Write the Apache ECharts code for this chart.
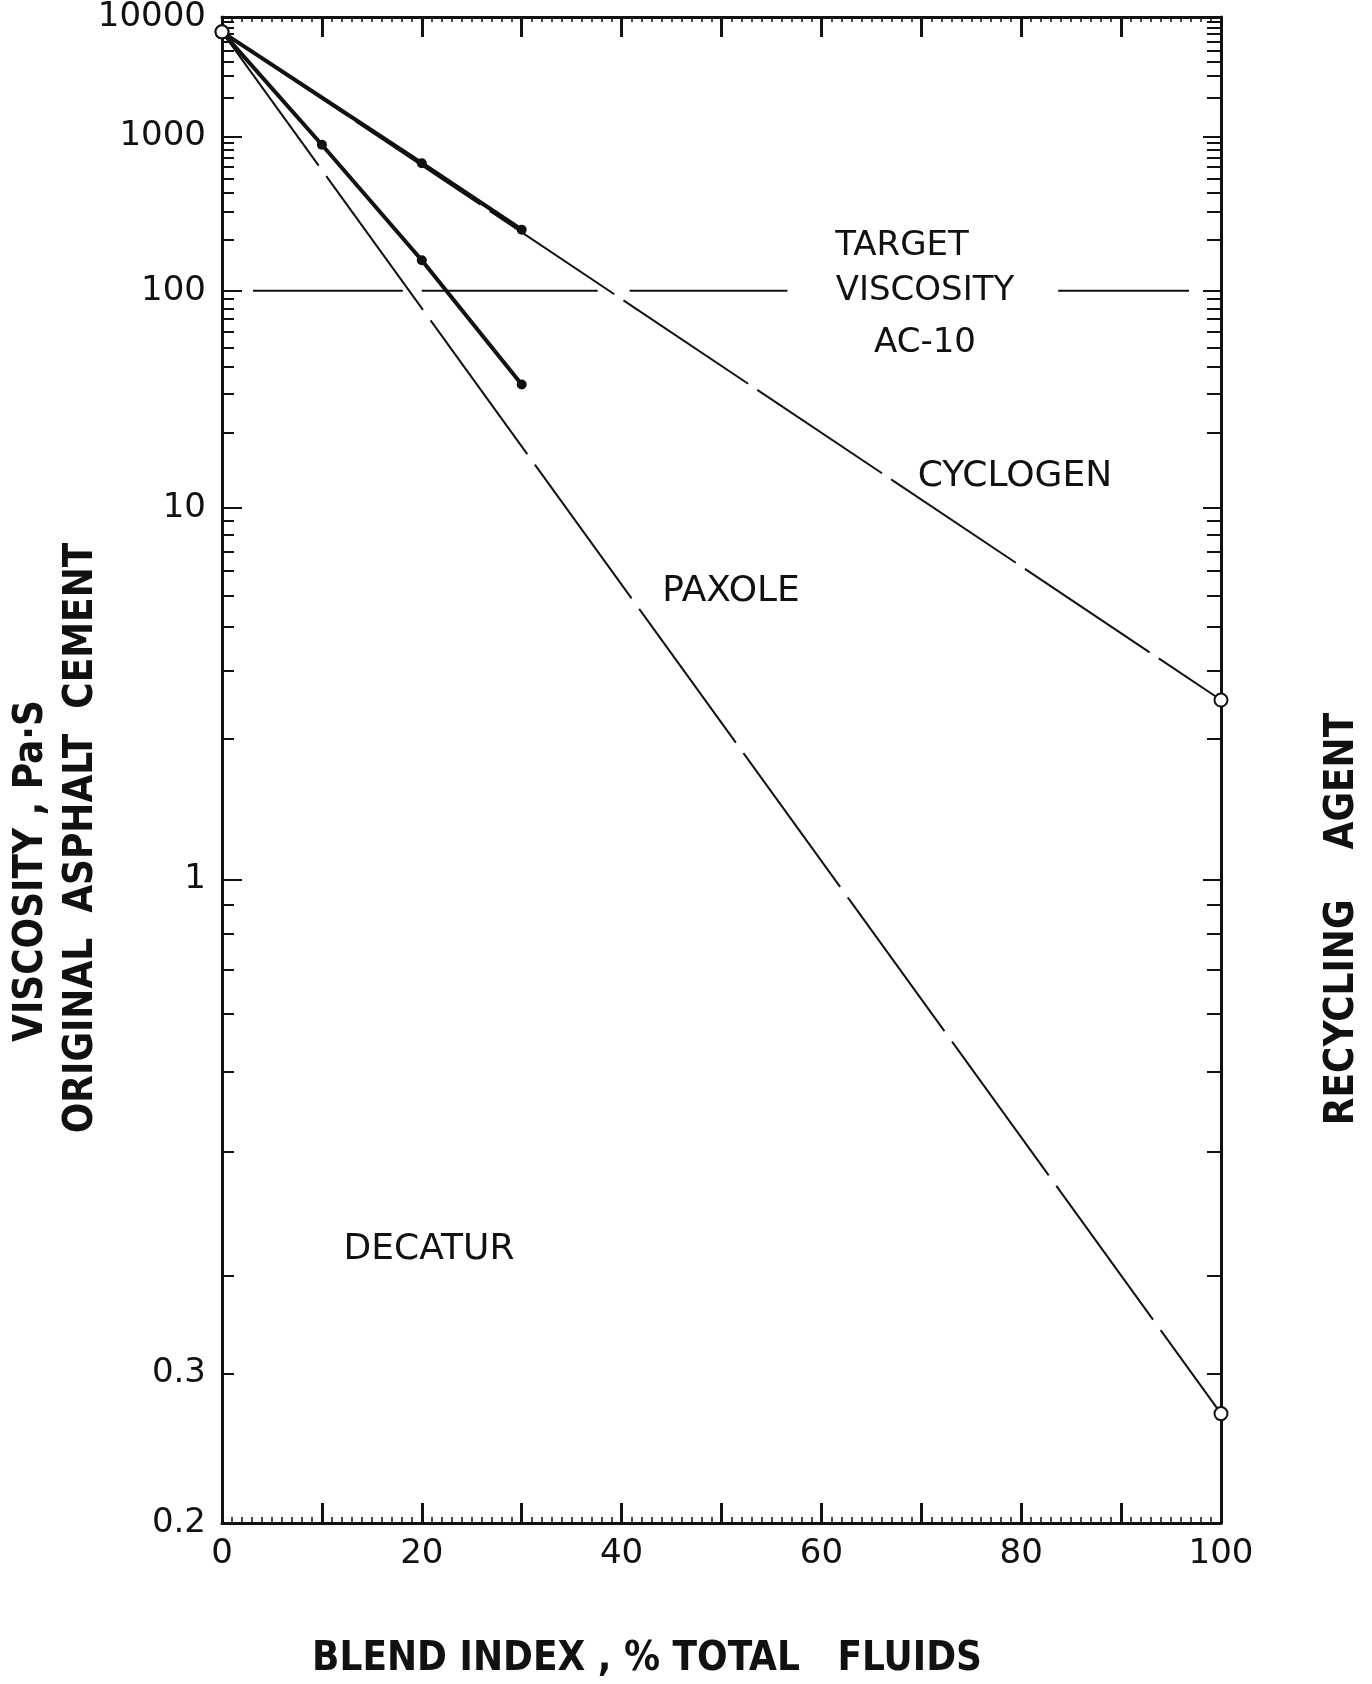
<!DOCTYPE html>
<html>
<head>
<meta charset="utf-8">
<title>Viscosity blending chart</title>
<script src="https://cdn.jsdelivr.net/npm/echarts@6/dist/echarts.min.js"></script>
<style>
  html, body { margin: 0; padding: 0; background: #fff; }
  #chart { width: 1372px; height: 1684px; }
</style>
</head>
<body>
<div id="chart"></div>
<script>
// ---- data ----
var yMin = 0.2, yMax = 10000;
var yLabelText = ['10000', '1000', '100', '10', '1', '0.3', '0.2'];
var yLabelAt   = [10000, 1000, 100, 10, 1, 0.25, 0.2];   // where the printed labels sit
var yMajorTicks = [1000, 100, 10, 1];
var xLabelValues = [0, 20, 40, 60, 80, 100];

var asphaltVisc = 7300;            // Decatur AC at 0 %
var blendPct = [0, 100];
var cyclogenLine = [asphaltVisc, 2.5];
var paxoleLine   = [asphaltVisc, 0.234];

var cycMeasPct  = [0, 20, 30];
var cycMeasVisc = [asphaltVisc, 640, 230];
var paxMeasPct  = [0, 10, 20, 30];
var paxMeasVisc = [asphaltVisc, 870, 150, 33];

var targetVisc = 100;               // AC-10
var targetSegments = [[3.1, 18.1], [20.0, 37.6], [40.8, 56.6], [83.7, 96.8]];

// ---- log-log viscosity scale ----
function f(v) { return Math.log10(1 + Math.log10(v)); }

var minorTicks = [0.25];
[0.1, 1, 10, 100, 1000].forEach(function (d) {
  for (var k = 2; k <= 9; k++) {
    var v = +(k * d).toPrecision(3);
    if (v > yMin && v < yMax) minorTicks.push(v);
  }
});

var ink = '#111';
var labelFont = '"DejaVu Sans", sans-serif';
var titleFont = '"DejaVu Sans Condensed", "DejaVu Sans", sans-serif';

function pairs(xs, ys) {
  return xs.map(function (x, i) { return [x, f(ys[i])]; });
}

function yAxisBase(pos, ticks, len, showLine) {
  return {
    type: 'value', position: pos, min: f(yMin), max: f(yMax),
    axisLine: { show: showLine, onZero: false, lineStyle: { color: ink, width: 3 } },
    axisTick: { show: true, inside: true, length: len, customValues: ticks.map(f),
                lineStyle: { color: ink, width: 2 } },
    axisLabel: { show: false },
    splitLine: { show: false }
  };
}

var leftMain = yAxisBase('left', yMajorTicks, 20, true);
leftMain.axisLabel = {
  show: true, customValues: yLabelAt.map(f), margin: 16,
  color: ink, fontSize: 34, fontFamily: labelFont,
  formatter: function (val) {
    for (var i = 0; i < yLabelAt.length; i++) {
      if (Math.abs(f(yLabelAt[i]) - val) < 1e-6) return yLabelText[i];
    }
    return '';
  }
};

function xAxisBase(pos, showLabel, minorLen) {
  return {
    type: 'value', position: pos, min: 0, max: 100, interval: 10,
    axisLine: { show: true, onZero: false, lineStyle: { color: ink, width: 3 } },
    axisTick: { show: true, inside: true, length: 20, lineStyle: { color: ink, width: 3 } },
    minorTick: { show: true, splitNumber: 10, length: minorLen, lineStyle: { color: ink, width: 1.5 } },
    axisLabel: showLabel ? { show: true, customValues: xLabelValues, margin: 14,
                             color: ink, fontSize: 34, fontFamily: labelFont }
                         : { show: false },
    splitLine: { show: false }, minorSplitLine: { show: false }
  };
}

var series = [];

targetSegments.forEach(function (s) {
  series.push({
    type: 'line', xAxisIndex: 0, yAxisIndex: 0, symbol: 'none', silent: true,
    data: [[s[0], f(targetVisc)], [s[1], f(targetVisc)]],
    lineStyle: { color: ink, width: 2 }
  });
});

series.push({
  name: 'Cyclogen blend', type: 'line', clip: false,
  data: pairs(blendPct, cyclogenLine),
  symbol: 'circle', symbolSize: 13, z: 4,
  itemStyle: { color: '#fff', borderColor: ink, borderWidth: 2 },
  lineStyle: { color: ink, width: 2, type: [150, 11] }
});
series.push({
  name: 'Paxole blend', type: 'line', clip: false,
  data: pairs(blendPct, paxoleLine),
  symbol: 'circle', symbolSize: 13, z: 4,
  itemStyle: { color: '#fff', borderColor: ink, borderWidth: 2 },
  lineStyle: { color: ink, width: 2, type: [165, 13] }
});

function measured(name, xs, ys) {
  return {
    name: name, type: 'line', z: 3,
    data: pairs(xs, ys).map(function (p, i) {
      return i === 0 ? { value: p, symbol: 'none' } : { value: p };
    }),
    symbol: 'circle', symbolSize: 10,
    itemStyle: { color: ink },
    lineStyle: { color: ink, width: 4 }
  };
}
series.push(measured('Decatur + Cyclogen', cycMeasPct, cycMeasVisc));
series.push(measured('Decatur + Paxole', paxMeasPct, paxMeasVisc));

function note(text, x, y, size) {
  return { type: 'text', x: x, y: y, z: 10,
           style: { text: text, fill: ink, fontSize: size || 34, fontFamily: labelFont,
                    align: 'center', verticalAlign: 'middle' } };
}
function vtitle(text, x, y) {
  return { type: 'text', x: x, y: y, rotation: Math.PI / 2, z: 10,
           style: { text: text, fill: ink, fontSize: 40, fontWeight: 'bold', fontFamily: titleFont,
                    align: 'center', verticalAlign: 'middle' } };
}

var chart = echarts.init(document.getElementById('chart'), null, { renderer: 'canvas' });
chart.setOption({
  backgroundColor: '#fff',
  animation: false,
  grid: { left: 222, right: 151, top: 15, bottom: 161 },
  xAxis: [xAxisBase('bottom', true, 6), xAxisBase('top', false, 5)],
  yAxis: [
    leftMain,
    yAxisBase('left', minorTicks, 12, false),
    yAxisBase('right', yMajorTicks, 18, true),
    yAxisBase('right', minorTicks, 14, false)
  ],
  series: series,
  graphic: [
    note('TARGET', 902, 246),
    note('VISCOSITY', 925, 291),
    note('AC-10', 925, 343),
    note('CYCLOGEN', 1015, 477, 36),
    note('PAXOLE', 731, 592, 36),
    note('DECATUR', 429, 1250, 36),
    vtitle('VISCOSITY , Pa\u00b7S', 32, 871),
    vtitle('ORIGINAL  ASPHALT  CEMENT', 82, 838),
    vtitle('RECYCLING    AGENT', 1343, 919),
    { type: 'text', x: 647, y: 1660, z: 10,
      style: { text: 'BLEND INDEX , % TOTAL   FLUIDS', fill: ink, fontSize: 40, fontWeight: 'bold',
               fontFamily: titleFont, align: 'center', verticalAlign: 'middle' } }
  ]
});
</script>
</body>
</html>
